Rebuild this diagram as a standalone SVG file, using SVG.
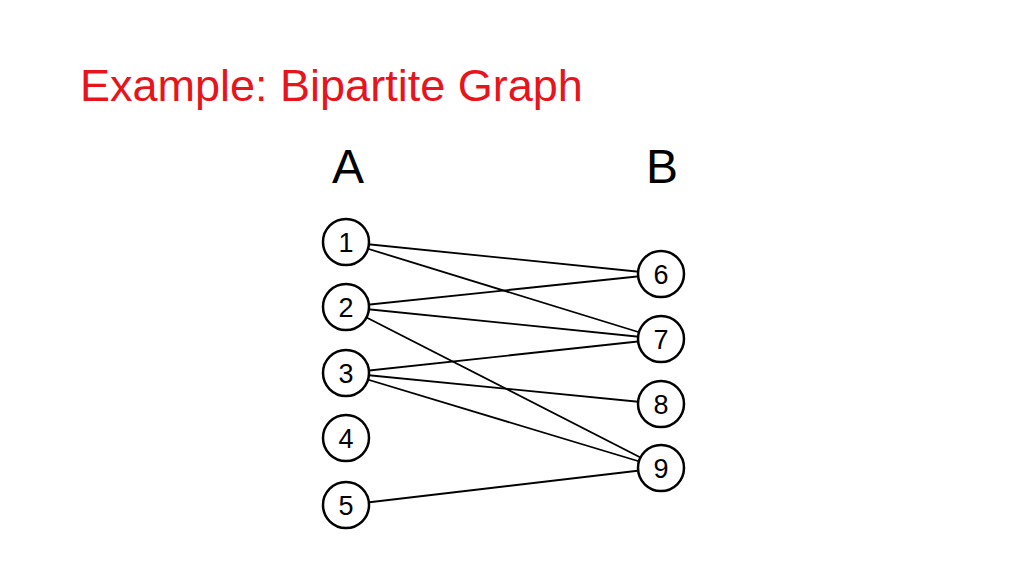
<svg xmlns="http://www.w3.org/2000/svg" width="1024" height="576" viewBox="0 0 1024 576">
<style>
.n circle{fill:#fff;stroke:#000;stroke-width:2.5}
.n text{font-family:"Liberation Sans",Arial,sans-serif;font-size:27px;text-anchor:middle}
#edges line{stroke:#000;stroke-width:1.8}
.h{font-family:"Liberation Sans",Arial,sans-serif;font-size:48px;text-anchor:middle}
</style>
<rect width="1024" height="576" fill="#fff"/>
<text x="80" y="101" font-family="Liberation Sans,Arial,sans-serif" font-size="45" fill="#e8141b">Example: Bipartite Graph</text>
<text class="h" x="348" y="183">A</text>
<text class="h" x="662" y="183">B</text>
<g id="edges">
<line x1="346" y1="242" x2="661" y2="274"/>
<line x1="346" y1="242" x2="661" y2="339"/>
<line x1="346" y1="307" x2="661" y2="274"/>
<line x1="346" y1="307" x2="661" y2="339"/>
<line x1="346" y1="307" x2="661" y2="468"/>
<line x1="346" y1="373" x2="661" y2="339"/>
<line x1="346" y1="373" x2="661" y2="404"/>
<line x1="346" y1="373" x2="661" y2="468"/>
<line x1="346" y1="505" x2="661" y2="468"/>
</g>
<g id="n1" class="n"><circle cx="346" cy="242" r="23"/><text x="346" y="252">1</text></g>
<g id="n2" class="n"><circle cx="346" cy="307" r="23"/><text x="346" y="317">2</text></g>
<g id="n3" class="n"><circle cx="346" cy="373" r="23"/><text x="346" y="383">3</text></g>
<g id="n4" class="n"><circle cx="346" cy="438" r="23"/><text x="346" y="448">4</text></g>
<g id="n5" class="n"><circle cx="346" cy="505" r="23"/><text x="346" y="515">5</text></g>
<g id="n6" class="n"><circle cx="661" cy="274" r="23"/><text x="661" y="284">6</text></g>
<g id="n7" class="n"><circle cx="661" cy="339" r="23"/><text x="661" y="349">7</text></g>
<g id="n8" class="n"><circle cx="661" cy="404" r="23"/><text x="661" y="414">8</text></g>
<g id="n9" class="n"><circle cx="661" cy="468" r="23"/><text x="661" y="478">9</text></g>
</svg>
